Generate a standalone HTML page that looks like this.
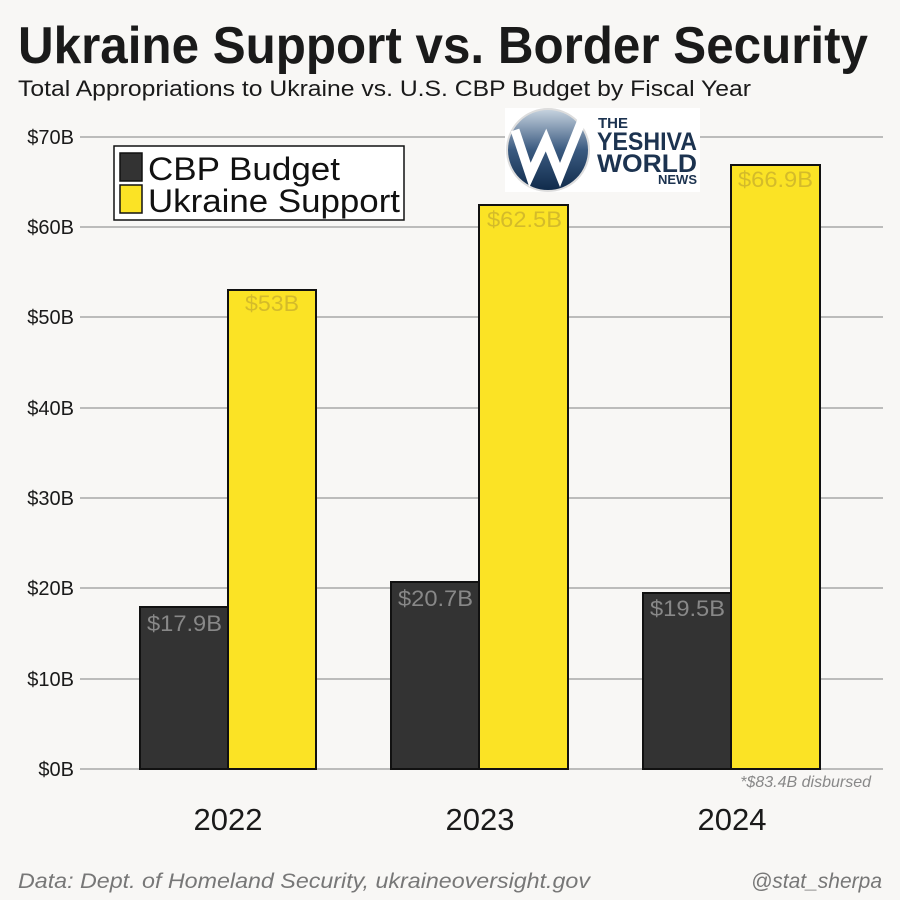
<!DOCTYPE html>
<html><head><meta charset="utf-8"><style>
html,body{margin:0;padding:0;background:#f8f7f5;}
svg{display:block;font-family:"Liberation Sans",sans-serif;}
</style></head><body>
<svg width="900" height="900" viewBox="0 0 900 900">
<rect width="900" height="900" fill="#f8f7f5"/>
<text x="18" y="63" font-size="52" font-weight="bold" fill="#1a1a1a" textLength="850" lengthAdjust="spacingAndGlyphs">Ukraine Support vs. Border Security</text>
<text x="18" y="96" font-size="22" fill="#1a1a1a" textLength="733" lengthAdjust="spacingAndGlyphs">Total Appropriations to Ukraine vs. U.S. CBP Budget by Fiscal Year</text>
<g stroke="#999" stroke-width="1.3">
<line x1="80" y1="137" x2="883" y2="137"/><line x1="80" y1="227" x2="883" y2="227"/>
<line x1="80" y1="317" x2="883" y2="317"/><line x1="80" y1="408" x2="883" y2="408"/>
<line x1="80" y1="498" x2="883" y2="498"/><line x1="80" y1="588" x2="883" y2="588"/>
<line x1="80" y1="679" x2="883" y2="679"/><line x1="80" y1="769" x2="883" y2="769"/>
</g>
<g font-size="20" fill="#1a1a1a" text-anchor="end">
<text x="74" y="144">$70B</text><text x="74" y="234">$60B</text><text x="74" y="324">$50B</text>
<text x="74" y="415">$40B</text><text x="74" y="505">$30B</text><text x="74" y="595">$20B</text>
<text x="74" y="686">$10B</text><text x="74" y="776">$0B</text>
</g>
<g stroke="#111" stroke-width="2">
<rect x="140" y="607" width="88" height="162" fill="#333"/>
<rect x="228" y="290" width="88" height="479" fill="#fbe325"/>
<rect x="391" y="582" width="88" height="187" fill="#333"/>
<rect x="479" y="205" width="89" height="564" fill="#fbe325"/>
<rect x="643" y="593" width="88" height="176" fill="#333"/>
<rect x="731" y="165" width="89" height="604" fill="#fbe325"/>
</g>
<g font-size="22">
<text x="147" y="631" fill="#888" textLength="75" lengthAdjust="spacingAndGlyphs">$17.9B</text>
<text x="245" y="311" fill="#d4bb2a" textLength="54" lengthAdjust="spacingAndGlyphs">$53B</text>
<text x="398" y="606" fill="#888" textLength="75" lengthAdjust="spacingAndGlyphs">$20.7B</text>
<text x="487" y="227" fill="#d4bb2a" textLength="75" lengthAdjust="spacingAndGlyphs">$62.5B</text>
<text x="650" y="616" fill="#888" textLength="75" lengthAdjust="spacingAndGlyphs">$19.5B</text>
<text x="738" y="187" fill="#d4bb2a" textLength="75" lengthAdjust="spacingAndGlyphs">$66.9B</text>
</g>
<text x="871" y="787" font-size="16" font-style="italic" fill="#888" text-anchor="end">*$83.4B disbursed</text>
<g font-size="31" fill="#1a1a1a" text-anchor="middle">
<text x="228" y="830">2022</text><text x="480" y="830">2023</text><text x="732" y="830">2024</text>
</g>
<text x="18" y="888" font-size="21" font-style="italic" fill="#777" textLength="572" lengthAdjust="spacingAndGlyphs">Data: Dept. of Homeland Security, ukraineoversight.gov</text>
<text x="882" y="888" font-size="21" font-style="italic" fill="#777" text-anchor="end">@stat_sherpa</text>
<rect x="114" y="146" width="290" height="74" fill="#fff" stroke="#111" stroke-width="1.5"/>
<rect x="120" y="153" width="22" height="28" fill="#333" stroke="#111" stroke-width="1.5"/>
<rect x="120" y="185" width="22" height="28" fill="#fbe325" stroke="#111" stroke-width="1.5"/>
<text x="148" y="180" font-size="32" fill="#111" textLength="192" lengthAdjust="spacingAndGlyphs">CBP Budget</text>
<text x="148" y="212" font-size="32" fill="#111" textLength="252" lengthAdjust="spacingAndGlyphs">Ukraine Support</text>
<defs><linearGradient id="g" x1="0" y1="0" x2="0" y2="1"><stop offset="0" stop-color="#c8d4e0"/><stop offset="0.5" stop-color="#3a5a80"/><stop offset="1" stop-color="#0f2a4a"/></linearGradient></defs>
<rect x="505" y="108" width="195" height="84" fill="#fff"/>
<circle cx="548" cy="150" r="41" fill="url(#g)" stroke="#ddd" stroke-width="2"/>
<path d="M515 130 L530 175 L546 140 L560 175 L582 120" fill="none" stroke="#fff" stroke-width="9" stroke-linejoin="miter"/>
<g font-weight="bold" fill="#1c3350">
<text x="598" y="128" font-size="15">THE</text>
<text x="597" y="150" font-size="25" textLength="100" lengthAdjust="spacingAndGlyphs">YESHIVA</text>
<text x="597" y="172" font-size="25" textLength="100" lengthAdjust="spacingAndGlyphs">WORLD</text>
<text x="697" y="184" font-size="13" text-anchor="end">NEWS</text>
</g>
</svg>
</body></html>
